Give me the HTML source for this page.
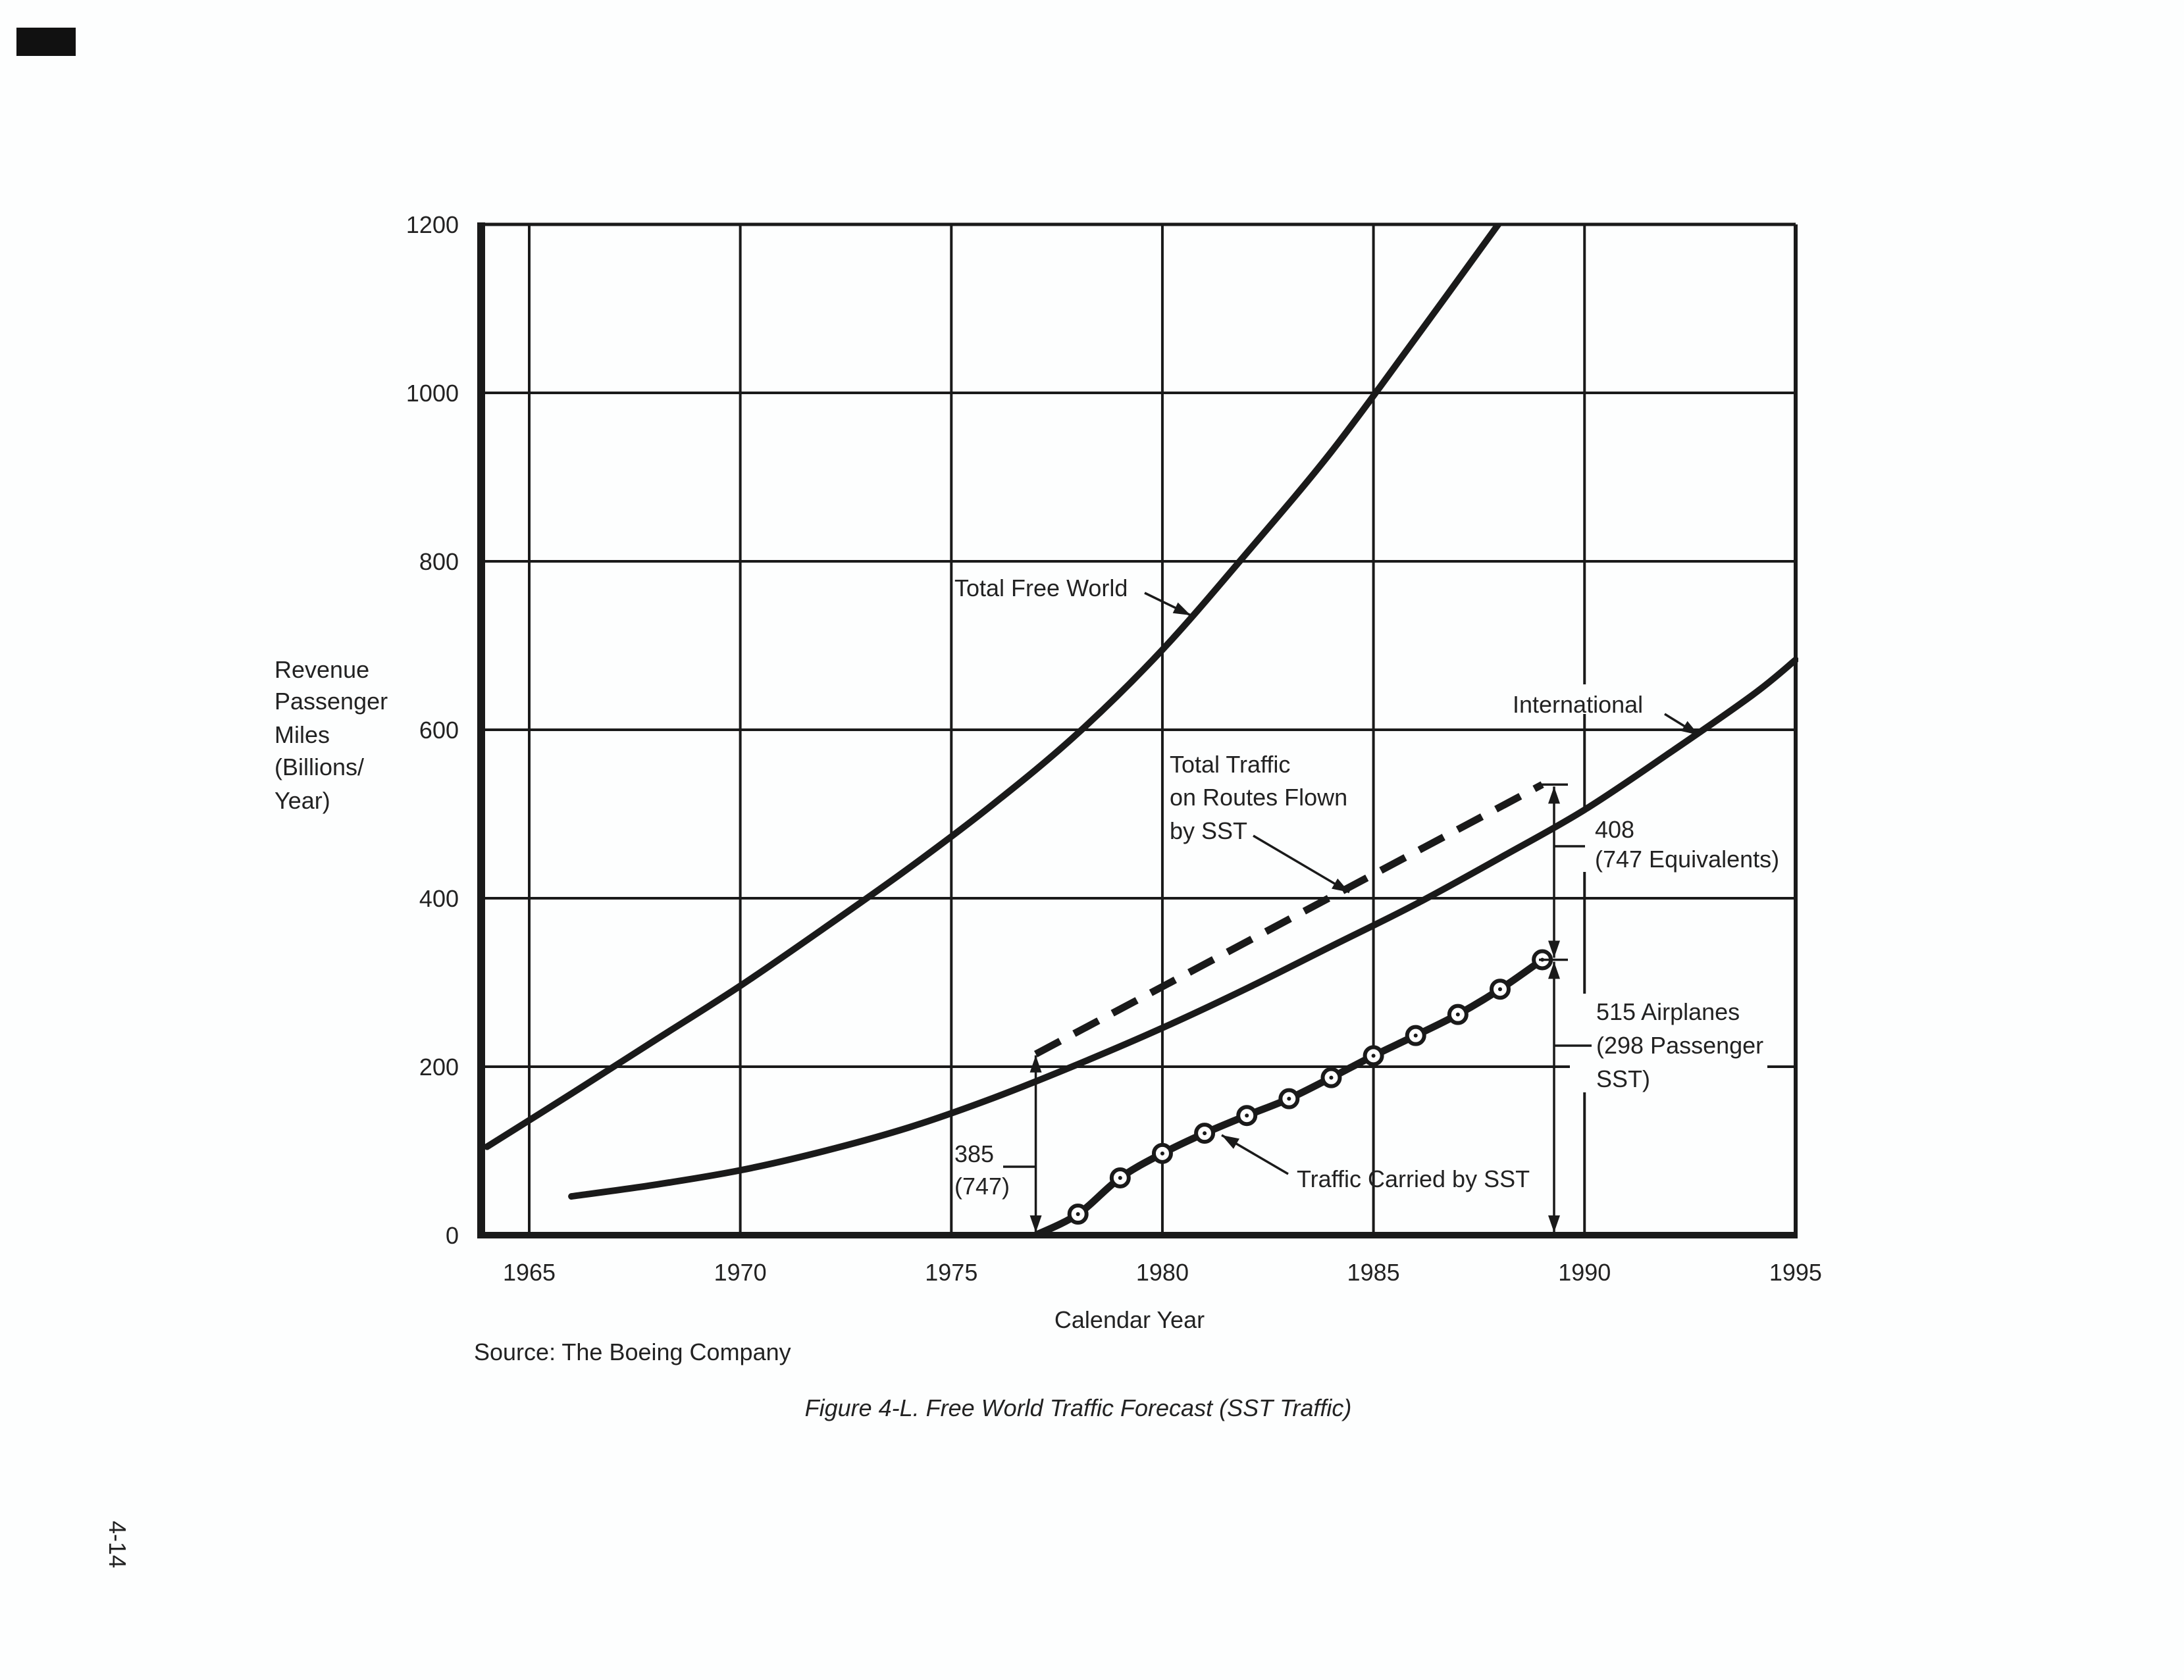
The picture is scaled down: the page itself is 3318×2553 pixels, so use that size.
<!DOCTYPE html>
<html><head><meta charset="utf-8">
<style>
html,body{margin:0;padding:0;background:#fff;}
svg{display:block;}
text{font-family:"Liberation Sans",sans-serif;fill:#222;}
</style></head>
<body>
<svg id="chart" width="3318" height="2553" viewBox="0 0 3318 2553" xmlns="http://www.w3.org/2000/svg">
<rect x="0" y="0" width="3318" height="2553" fill="#fdfefe"/>
<rect x="25" y="42" width="90" height="43" fill="#111"/>
<g id="grid"></g>
<g id="series"></g>
<g id="annot"></g>
<g id="labels"></g>
</svg>
<script>
const xTicks = [1965, 1970, 1975, 1980, 1985, 1990, 1995];
const yTicks = [0, 200, 400, 600, 800, 1000, 1200];
const freeWorldYears = [1964, 1966, 1968, 1970, 1972, 1974, 1976, 1978, 1980, 1982, 1984, 1986, 1988];
const freeWorldValues = [105, 168, 232, 296, 365, 436, 512, 596, 695, 810, 930, 1065, 1203];
const intlYears = [1966, 1968, 1970, 1972, 1974, 1976, 1978, 1980, 1982, 1984, 1986, 1988, 1990, 1992, 1994, 1995];
const intlValues = [46, 60, 77, 100, 128, 163, 203, 246, 293, 343, 393, 448, 505, 572, 642, 683];
const routeYears = [1977, 1989];
const routeValues = [215, 535];
const sstYears = [1977, 1978, 1979, 1980, 1981, 1982, 1983, 1984, 1985, 1986, 1987, 1988, 1989];
const sstValues = [0, 25, 68, 97, 121, 142, 162, 187, 213, 237, 262, 292, 327];

const NS = "http://www.w3.org/2000/svg";
const X0 = 804, PXY = 64.13, Y0 = 1877, PXV = 1.28;
function xs(yr){ return X0 + (yr - 1965) * PXY; }
function ys(v){ return Y0 - v * PXV; }
function mk(tag, attrs, parent){
  const e = document.createElementNS(NS, tag);
  for (const k in attrs) e.setAttribute(k, attrs[k]);
  parent.appendChild(e);
  return e;
}
function smooth(xsArr, vsArr){
  const p = xsArr.map((x,i)=>[xs(x), ys(vsArr[i])]);
  let d = "M" + p[0][0].toFixed(1) + "," + p[0][1].toFixed(1);
  for (let i=0;i<p.length-1;i++){
    const p0 = p[i-1]||p[i], p1=p[i], p2=p[i+1], p3=p[i+2]||p2;
    const c1=[p1[0]+(p2[0]-p0[0])/6, p1[1]+(p2[1]-p0[1])/6];
    const c2=[p2[0]-(p3[0]-p1[0])/6, p2[1]-(p3[1]-p1[1])/6];
    d += " C"+c1[0].toFixed(1)+","+c1[1].toFixed(1)+" "+c2[0].toFixed(1)+","+c2[1].toFixed(1)+" "+p2[0].toFixed(1)+","+p2[1].toFixed(1);
  }
  return d;
}
const grid = document.getElementById("grid");
const series = document.getElementById("series");
const annot = document.getElementById("annot");
const labels = document.getElementById("labels");
const LEFT = 731, RIGHT = 2728, TOP = ys(1200);

yTicks.forEach(v=>{
  if (v>0){
    const l = mk("line",{x1:LEFT,x2:RIGHT,y1:ys(v),y2:ys(v),stroke:"#1a1a1a","stroke-width":4},grid);
    
    
  }
  const t = mk("text",{x:697,y:ys(v)+13,"text-anchor":"end","font-size":36},labels);
  t.textContent = v;
  
  
});
xTicks.forEach(yr=>{
  if (yr<1995){
    const l = mk("line",{x1:xs(yr),x2:xs(yr),y1:TOP,y2:Y0,stroke:"#1a1a1a","stroke-width":4},grid);
    
    
  }
  const t = mk("text",{x:xs(yr),y:1946,"text-anchor":"middle","font-size":36},labels);
  t.textContent = yr;
  
  
});
let f = mk("line",{x1:LEFT,x2:RIGHT,y1:TOP,y2:TOP,stroke:"#1a1a1a","stroke-width":5},grid);
 
f = mk("line",{x1:RIGHT,x2:RIGHT,y1:TOP,y2:Y0+4,stroke:"#1a1a1a","stroke-width":6},grid);
 
f = mk("line",{x1:LEFT,x2:LEFT,y1:TOP-3,y2:Y0+5,stroke:"#1a1a1a","stroke-width":12},grid);
 
f = mk("line",{x1:LEFT-6,x2:RIGHT+3,y1:Y0,y2:Y0,stroke:"#1a1a1a","stroke-width":10},grid);
 

[[2385,1235,300,90],[2385,1510,300,150],[2385,1040,140,45]].forEach((r,i)=>{
  const m = mk("rect",{x:r[0],y:r[1],width:r[2],height:r[3],fill:"#fdfefe"},grid);
  
  
});

const clip = mk("clipPath",{id:"plotclip"},document.getElementById("chart"));
mk("rect",{x:LEFT,y:TOP-2,width:RIGHT-LEFT+4,height:Y0-TOP+10},clip);
series.setAttribute("clip-path","url(#plotclip)");

let s = mk("path",{d:smooth(freeWorldYears,freeWorldValues),fill:"none",stroke:"#1a1a1a","stroke-width":10,"stroke-linecap":"round"},series);
 
s = mk("path",{d:smooth(intlYears,intlValues),fill:"none",stroke:"#1a1a1a","stroke-width":10,"stroke-linecap":"round"},series);
 
s = mk("line",{x1:xs(routeYears[0]),y1:ys(routeValues[0]),x2:xs(routeYears[1]),y2:ys(routeValues[1]),stroke:"#1a1a1a","stroke-width":11,"stroke-dasharray":"42 24"},series);
 
s = mk("path",{d:smooth(sstYears,sstValues),fill:"none",stroke:"#1a1a1a","stroke-width":11},series);
 
sstYears.forEach((yr,i)=>{
  if (i===0) return;
  const c = mk("circle",{cx:xs(yr),cy:ys(sstValues[i]),r:13,fill:"#fff",stroke:"#1a1a1a","stroke-width":6},series);
  
  
  const d = mk("circle",{cx:xs(yr),cy:ys(sstValues[i]),r:3,fill:"#1a1a1a"},series);
  
  
});

function arrow(x1,y1,x2,y2,name,w){
  const g = mk("g",{},annot);
  
  
  mk("line",{x1:x1,y1:y1,x2:x2,y2:y2,stroke:"#1a1a1a","stroke-width":w||3.5},g);
  const a=Math.atan2(y2-y1,x2-x1), L=26, H=9;
  const bx=x2-L*Math.cos(a), by=y2-L*Math.sin(a);
  const p=[[x2,y2],[bx+H*Math.sin(a),by-H*Math.cos(a)],[bx-H*Math.sin(a),by+H*Math.cos(a)]];
  mk("polygon",{points:p.map(q=>q.join(",")).join(" "),fill:"#1a1a1a"},g);
}
function line(x1,y1,x2,y2,name){
  const l = mk("line",{x1:x1,y1:y1,x2:x2,y2:y2,stroke:"#1a1a1a","stroke-width":3.5},annot);
  
  
}
function txt(x,y,str,name,opts){
  const t = mk("text",Object.assign({x:x,y:y,"font-size":36},opts||{}),labels);
  t.textContent = str;
  
  
}
arrow(1739,901,1809,935,"free-world-pointer");
arrow(2529,1085,2581,1117,"international-pointer");
arrow(1904,1270,2050,1356,"routes-pointer");
arrow(1957,1784,1856,1725,"sst-traffic-pointer");
const vx = 2361;
arrow(vx,1300,vx,ys(535)+3,"dim-408-up");
arrow(vx,1300,vx,ys(327)-3,"dim-408-down");
arrow(vx,1600,vx,ys(327)+3,"dim-515-up");
arrow(vx,1600,vx,Y0-4,"dim-515-down");
line(2338,ys(535),2382,ys(535),"dim-top-tick");
line(2338,ys(327),2382,ys(327),"dim-mid-tick");
line(vx,1286,2408,1286,"leader-408");
line(vx,1589,2418,1589,"leader-515");
const ax = xs(1977);
arrow(ax,1773,ax,ys(215)+2,"dim-385-up");
arrow(ax,1773,ax,Y0-4,"dim-385-down");
line(1524,1773,ax,1773,"leader-385");

txt(1450,906,"Total Free World","total-free-world-label");
txt(2298,1083,"International","international-label");
txt(1777,1174,"Total Traffic","routes-label-1");
txt(1777,1224,"on Routes Flown","routes-label-2");
txt(1777,1275,"by SST","routes-label-3");
txt(2423,1273,"408","label-408");
txt(2423,1318,"(747 Equivalents)","label-747-equivalents");
txt(2425,1550,"515 Airplanes","label-515-airplanes");
txt(2425,1601,"(298 Passenger","label-298-passenger");
txt(2425,1652,"SST)","label-sst");
txt(1450,1766,"385","label-385");
txt(1450,1815,"(747)","label-747");
txt(1970,1804,"Traffic Carried by SST","sst-traffic-label");
["Revenue","Passenger","Miles","(Billions/","Year)"].forEach((w,i)=>{
  txt(417,[1030,1078,1129,1178,1229][i],w,"y-axis-title-line-"+(i+1));
});
txt(1716,2018,"Calendar Year","x-axis-title",{"text-anchor":"middle"});
txt(720,2067,"Source:  The Boeing Company","source-note");
txt(1638,2152,"Figure 4-L.  Free World Traffic Forecast (SST Traffic)","figure-caption",{"text-anchor":"middle","font-style":"italic"});
txt(0,0,"4-14","page-number",{transform:"translate(166,2347) rotate(90)","text-anchor":"middle"});
</script>
</body></html>
